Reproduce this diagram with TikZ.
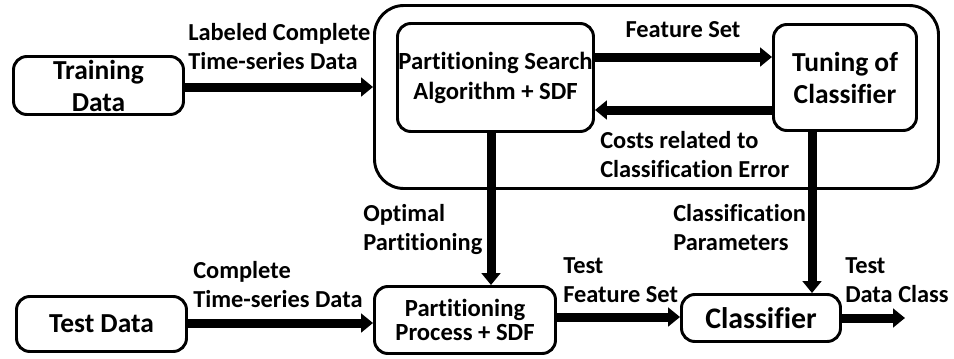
\documentclass[tikz,border=0pt]{standalone}
\usepackage{fontspec}
\setmainfont{Carlito}[Ligatures={NoCommon}]
\usetikzlibrary{arrows.meta}
\begin{document}
\begin{tikzpicture}[x=0.75pt,y=-0.75pt,
  box/.style={draw, line width=2.2pt, rounded corners=10pt, align=center, inner sep=0pt},
  bigtxt/.style={font=\bfseries\fontsize{20.6}{24}\selectfont},
  midtxt/.style={font=\bfseries\fontsize{18.5}{22.5}\selectfont},
  lbl/.style={anchor=base west, align=left, inner sep=0pt, font=\bfseries\fontsize{18.3}{21.75}\selectfont},
  arr/.style={line width=6.75pt, -{Triangle[length=9pt,width=14pt]}}]
\useasboundingbox (0,0) rectangle (954,358);
% containers and boxes
\node[draw, line width=2.2pt, rounded corners=22pt, minimum width=423pt, minimum height=137.25pt, inner sep=0pt] (big) at (656.5,97) {};
\node[box, bigtxt, minimum width=127.5pt, minimum height=43.5pt] (train) at (98.5,85.5) {Training\\Data};
\node[box, midtxt, minimum width=147pt, minimum height=81pt] (pss) at (495.5,77.5) {Partitioning Search\\Algorithm + SDF};
\node[box, bigtxt, minimum width=107.25pt, minimum height=79.5pt] (tune) at (845,77.5) {Tuning of\\Classifier};
\node[box, bigtxt, minimum width=127.5pt, minimum height=41.25pt] (test) at (101.5,324) {Test Data};
\node[box, font=\bfseries\fontsize{18.5}{18.5}\selectfont, minimum width=135.75pt, minimum height=50.25pt] (ppr) at (465,320) {Partitioning\\Process + SDF};
\node[box, font=\bfseries\fontsize{22.4}{24}\selectfont, minimum width=119.25pt, minimum height=35.25pt] (cls) at (761,318) {Classifier};
% helper coordinates
\coordinate (yTrain) at (0,87);
\coordinate (yFeat) at (0,57);
\coordinate (yCost) at (0,110);
\coordinate (yTest) at (0,323);
\coordinate (yTfs) at (0,317);
\coordinate (xL) at (491,0);
\coordinate (xR) at (812,0);
\coordinate (out) at (905,318);
% arrows
\draw[arr] (train.east |- yTrain) -- (big.west |- yTrain);
\draw[arr] (pss.east |- yFeat) -- (tune.west |- yFeat);
\draw[arr] (tune.west |- yCost) -- (pss.east |- yCost);
\draw[arr] (pss.south -| xL) -- (ppr.north -| xL);
\draw[arr] (tune.south -| xR) -- (cls.north -| xR);
\draw[arr] (test.east |- yTest) -- (ppr.west |- yTest);
\draw[arr] (ppr.east |- yTfs) -- (cls.west |- yTfs);
\draw[arr] (cls.east |- out) -- (out);
% labels (base anchor = last line)
\node[lbl] (l1) at (188,69) {Labeled Complete\\Time-series Data};
\node[lbl, anchor=base] (l2) at (683,37) {Feature Set};
\node[lbl] (l3) at (600,177) {Costs related to\\Classification Error};
\node[lbl] (l4) at (363,250) {Optimal\\Partitioning};
\node[lbl] (l5) at (673,250) {Classification\\Parameters};
\node[lbl] (l6) at (193,307) {Complete\\Time-series Data};
\node[lbl] (l7) at (563,302) {Test\\Feature Set};
\node[lbl] (l8) at (845,302) {Test\\Data Class};
\end{tikzpicture}
\end{document}
